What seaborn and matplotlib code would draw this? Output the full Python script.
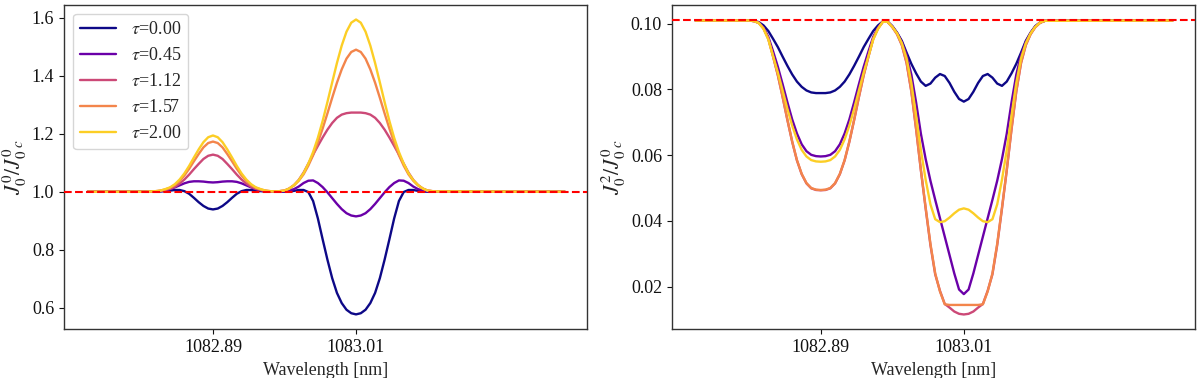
import matplotlib
matplotlib.use("Agg")
import matplotlib.pyplot as plt
import numpy as np
import pandas as pd
import seaborn as sns

sns.set_style("ticks")
plt.rcParams['font.family'] = ['Liberation Serif', 'DejaVu Serif']
plt.rcParams['mathtext.fontset'] = 'stix'

# ---------------- data ----------------
wavelength = [1082.785,
    1082.830, 1082.834, 1082.838, 1082.842, 1082.846, 1082.850, 1082.854, 1082.858,
    1082.862, 1082.866, 1082.870, 1082.874, 1082.878, 1082.882, 1082.886, 1082.890,
    1082.894, 1082.898, 1082.902, 1082.906, 1082.910, 1082.914, 1082.918, 1082.922,
    1082.926, 1082.930, 1082.934, 1082.938, 1082.942, 1082.946, 1082.950,
    1082.954, 1082.958, 1082.962, 1082.966, 1082.970, 1082.974, 1082.978, 1082.982,
    1082.986, 1082.990, 1082.994, 1082.998, 1083.002, 1083.006, 1083.010,
    1083.014, 1083.018, 1083.022, 1083.026, 1083.030, 1083.034, 1083.038, 1083.042,
    1083.046, 1083.050, 1083.054, 1083.058, 1083.062, 1083.066, 1083.070,
    1083.074, 1083.078,
    1083.185]

tau_values = [0.00, 0.45, 1.12, 1.57, 2.00]
tau_labels = [r"$\tau$=0.00", r"$\tau$=0.45", r"$\tau$=1.12", r"$\tau$=1.57", r"$\tau$=2.00"]

# J00 / J00c  (left panel)
j00_tau_000 = [1.000,
    1.000, 1.000, 1.000, 1.000, 1.001, 1.002, 1.004, 1.006, 1.006, 1.002, 0.993, 0.979, 0.964, 0.951, 0.942, 0.939,
    0.942, 0.951, 0.964, 0.979, 0.993, 1.002, 1.006, 1.006, 1.004, 1.002, 1.001, 1.000, 1.000, 1.000,
    1.000,
    1.001, 1.003, 1.006, 1.006, 0.999, 0.968, 0.908, 0.836, 0.766, 0.702, 0.651, 0.616, 0.593, 0.581, 0.577,
    0.581, 0.593, 0.616, 0.651, 0.702, 0.766, 0.836, 0.908, 0.968, 0.999, 1.006, 1.006, 1.003, 1.001, 1.000,
    1.000, 1.000,
    1.000]
j00_tau_045 = [1.000,
    1.000, 1.000, 1.000, 1.001, 1.002, 1.005, 1.009, 1.015, 1.022, 1.029, 1.034, 1.036, 1.036, 1.035, 1.033, 1.032,
    1.033, 1.035, 1.036, 1.036, 1.034, 1.029, 1.022, 1.015, 1.009, 1.005, 1.002, 1.001, 1.000, 1.000,
    1.001,
    1.004, 1.009, 1.018, 1.030, 1.038, 1.039, 1.030, 1.016, 0.998, 0.978, 0.958, 0.940, 0.926, 0.918, 0.915,
    0.918, 0.926, 0.940, 0.958, 0.978, 0.998, 1.016, 1.030, 1.039, 1.038, 1.030, 1.018, 1.009, 1.004, 1.001,
    1.000, 1.000,
    1.000]
j00_tau_112 = [1.000,
    1.000, 1.000, 1.000, 1.001, 1.003, 1.006, 1.010, 1.017, 1.028, 1.042, 1.059, 1.078, 1.096, 1.113, 1.124, 1.128,
    1.124, 1.113, 1.096, 1.078, 1.059, 1.042, 1.028, 1.017, 1.010, 1.006, 1.003, 1.001, 1.000, 1.002,
    1.004,
    1.011, 1.023, 1.041, 1.066, 1.097, 1.128, 1.158, 1.187, 1.214, 1.237, 1.255, 1.266, 1.271, 1.273, 1.273,
    1.273, 1.271, 1.266, 1.255, 1.237, 1.214, 1.187, 1.158, 1.128, 1.097, 1.066, 1.041, 1.023, 1.011, 1.004,
    1.002, 1.001,
    1.000]
j00_tau_157 = [1.000,
    1.000, 1.000, 1.001, 1.002, 1.004, 1.008, 1.014, 1.023, 1.037, 1.056, 1.079, 1.105, 1.130, 1.153, 1.168, 1.173,
    1.168, 1.153, 1.130, 1.105, 1.079, 1.056, 1.037, 1.023, 1.014, 1.008, 1.004, 1.002, 1.001, 1.002,
    1.004,
    1.011, 1.022, 1.038, 1.060, 1.090, 1.126, 1.170, 1.218, 1.270, 1.324, 1.376, 1.422, 1.459, 1.482, 1.490,
    1.482, 1.459, 1.422, 1.376, 1.324, 1.270, 1.218, 1.170, 1.126, 1.090, 1.060, 1.038, 1.022, 1.011, 1.004,
    1.002, 1.001,
    1.000]
j00_tau_200 = [1.000,
    1.000, 1.000, 1.001, 1.002, 1.004, 1.009, 1.015, 1.026, 1.042, 1.063, 1.089, 1.118, 1.146, 1.171, 1.188, 1.194,
    1.188, 1.171, 1.146, 1.118, 1.089, 1.063, 1.042, 1.026, 1.015, 1.009, 1.004, 1.002, 1.001, 1.002,
    1.004,
    1.011, 1.023, 1.040, 1.064, 1.097, 1.137, 1.186, 1.244, 1.309, 1.377, 1.444, 1.504, 1.552, 1.583, 1.594,
    1.583, 1.552, 1.504, 1.444, 1.377, 1.309, 1.244, 1.186, 1.137, 1.097, 1.064, 1.040, 1.023, 1.011, 1.004,
    1.002, 1.001,
    1.000]

# J20 / J00c  (right panel)
j20_tau_000 = [0.1010,
    0.1010, 0.1009, 0.1005, 0.0995, 0.0978, 0.0954, 0.0929, 0.0900, 0.0872, 0.0846, 0.0824, 0.0808, 0.0797, 0.0791, 0.0789, 0.0789,
    0.0789, 0.0791, 0.0797, 0.0808, 0.0824, 0.0846, 0.0872, 0.0900, 0.0929, 0.0954, 0.0978, 0.0995,
    0.1007, 0.1007, 0.0993, 0.0973,
    0.0948, 0.0912, 0.0878, 0.0849, 0.0824, 0.0811, 0.0818, 0.0836, 0.0847, 0.0841, 0.0820, 0.0793, 0.0771, 0.0763,
    0.0771, 0.0793, 0.0820, 0.0841, 0.0847, 0.0836, 0.0818, 0.0811, 0.0824, 0.0849, 0.0878, 0.0912, 0.0948, 0.0973,
    0.0993, 0.1004, 0.1009,
    0.1010]
j20_tau_045 = [0.1010,
    0.1010, 0.1008, 0.1003, 0.0988, 0.0960, 0.0916, 0.0869, 0.0816, 0.0761, 0.0709, 0.0666, 0.0633, 0.0612, 0.0601, 0.0597, 0.0596,
    0.0597, 0.0601, 0.0612, 0.0633, 0.0666, 0.0709, 0.0761, 0.0816, 0.0869, 0.0916, 0.0960, 0.0988,
    0.1006, 0.1006, 0.0992, 0.0972,
    0.0945, 0.0905, 0.0845, 0.0760, 0.0665, 0.0588, 0.0522, 0.0464, 0.0408, 0.0352, 0.0296, 0.0240, 0.0191, 0.0177,
    0.0191, 0.0240, 0.0296, 0.0352, 0.0408, 0.0464, 0.0522, 0.0588, 0.0665, 0.0760, 0.0845, 0.0905, 0.0945, 0.0972,
    0.0992, 0.1004, 0.1009,
    0.1010]
j20_tau_112 = [0.1010,
    0.1010, 0.1008, 0.1003, 0.0986, 0.0954, 0.0900, 0.0843, 0.0777, 0.0707, 0.0641, 0.0584, 0.0542, 0.0514, 0.0499, 0.0494, 0.0493,
    0.0494, 0.0499, 0.0514, 0.0542, 0.0584, 0.0641, 0.0707, 0.0777, 0.0843, 0.0900, 0.0954, 0.0986,
    0.1006, 0.1006, 0.0990, 0.0968,
    0.0935, 0.0880, 0.0793, 0.0678, 0.0553, 0.0437, 0.0326, 0.0237, 0.0187, 0.0147, 0.0136, 0.0124, 0.0117, 0.0115,
    0.0117, 0.0124, 0.0136, 0.0147, 0.0187, 0.0237, 0.0326, 0.0437, 0.0553, 0.0678, 0.0793, 0.0880, 0.0935, 0.0968,
    0.0990, 0.1003, 0.1009,
    0.1010]
j20_tau_157 = [0.1010,
    0.1010, 0.1008, 0.1003, 0.0986, 0.0955, 0.0901, 0.0844, 0.0778, 0.0708, 0.0642, 0.0585, 0.0543, 0.0515, 0.0500, 0.0495, 0.0494,
    0.0495, 0.0500, 0.0515, 0.0543, 0.0585, 0.0642, 0.0708, 0.0778, 0.0844, 0.0901, 0.0955, 0.0986,
    0.1006, 0.1006, 0.0990, 0.0969,
    0.0936, 0.0882, 0.0795, 0.0680, 0.0555, 0.0440, 0.0330, 0.0240, 0.0185, 0.0146, 0.0144, 0.0144, 0.0144, 0.0144,
    0.0144, 0.0144, 0.0144, 0.0146, 0.0185, 0.0240, 0.0330, 0.0440, 0.0555, 0.0680, 0.0795, 0.0882, 0.0936, 0.0969,
    0.0990, 0.1003, 0.1009,
    0.1010]
j20_tau_200 = [0.1010,
    0.1010, 0.1008, 0.1002, 0.0984, 0.0952, 0.0901, 0.0852, 0.0797, 0.0741, 0.0690, 0.0648, 0.0616, 0.0596, 0.0585, 0.0581, 0.0580,
    0.0581, 0.0585, 0.0596, 0.0616, 0.0648, 0.0690, 0.0741, 0.0797, 0.0852, 0.0901, 0.0952, 0.0984,
    0.1006, 0.1006, 0.0991, 0.0971,
    0.0941, 0.0895, 0.0820, 0.0720, 0.0615, 0.0525, 0.0450, 0.0405, 0.0396, 0.0399, 0.0410, 0.0423, 0.0434, 0.0438,
    0.0434, 0.0423, 0.0410, 0.0399, 0.0396, 0.0405, 0.0450, 0.0525, 0.0615, 0.0720, 0.0820, 0.0895, 0.0941, 0.0971,
    0.0991, 0.1004, 0.1009,
    0.1010]

continuum_left = 1.0
continuum_right = 0.1013
xtick_values = [1082.89, 1083.01]
xtick_labels = ["1082.89", "1083.01"]
ytick_left = [0.6, 0.8, 1.0, 1.2, 1.4, 1.6]
ytick_right = [0.02, 0.04, 0.06, 0.08, 0.10]

# ---------------- build tables ----------------
left_series = [j00_tau_000, j00_tau_045, j00_tau_112, j00_tau_157, j00_tau_200]
right_series = [j20_tau_000, j20_tau_045, j20_tau_112, j20_tau_157, j20_tau_200]


def long_table(series_list):
    rows = []
    for lab, vals in zip(tau_labels, series_list):
        for w, v in zip(wavelength, vals):
            rows.append({"wavelength": w, "value": v, "tau": lab})
    return pd.DataFrame(rows)


df_left = long_table(left_series)
df_right = long_table(right_series)

cmap = plt.get_cmap("plasma")
palette = {lab: cmap(t / 2.0 * 0.9) for lab, t in zip(tau_labels, tau_values)}

# ---------------- figure ----------------
fig = plt.figure(figsize=(12, 3.78), dpi=100)
ax1 = fig.add_axes([0.0533, 0.1288, 0.4361, 0.8587])
ax2 = fig.add_axes([0.5598, 0.1288, 0.4361, 0.8587])

sns.lineplot(data=df_left, x="wavelength", y="value", hue="tau", hue_order=tau_labels,
             palette=palette, estimator=None, sort=False, lw=1.7, ax=ax1, legend=True)
sns.lineplot(data=df_right, x="wavelength", y="value", hue="tau", hue_order=tau_labels,
             palette=palette, estimator=None, sort=False, lw=1.7, ax=ax2, legend=False)

ax1.axhline(continuum_left, color="red", ls="--", lw=1.5, zorder=5)
ax2.axhline(continuum_right, color="red", ls="--", lw=1.5, zorder=5)

ax1.set_xlim(1082.765, 1083.204)
ax2.set_xlim(1082.765, 1083.204)
ax1.set_ylim(0.5255, 1.645)
ax2.set_ylim(0.00698, 0.1058)

for ax in (ax1, ax2):
    ax.set_xticks(xtick_values)
    ax.set_xticklabels(xtick_labels)
    ax.set_xlabel("Wavelength [nm]", fontsize=13)
    ax.tick_params(axis="both", labelsize=13, direction="out", length=3.5, width=0.8, colors="#111111")
    for sp in ax.spines.values():
        sp.set_color("#333333")
        sp.set_linewidth(1.0)

ax1.set_yticks(ytick_left)
ax2.set_yticks(ytick_right)
ax1.set_yticklabels([f"{v:.1f}" for v in ytick_left])
ax2.set_yticklabels([f"{v:.2f}" for v in ytick_right])
ax1.set_ylabel(r"$J^0_0/{J^0_0}_c$", fontsize=15.5, labelpad=2)
ax2.set_ylabel(r"$J^2_0/{J^0_0}_c$", fontsize=15.5, labelpad=2)

sns.move_legend(ax1, "upper left", title=None, fontsize=13, frameon=True)

fig.savefig("out.png", dpi=100)
